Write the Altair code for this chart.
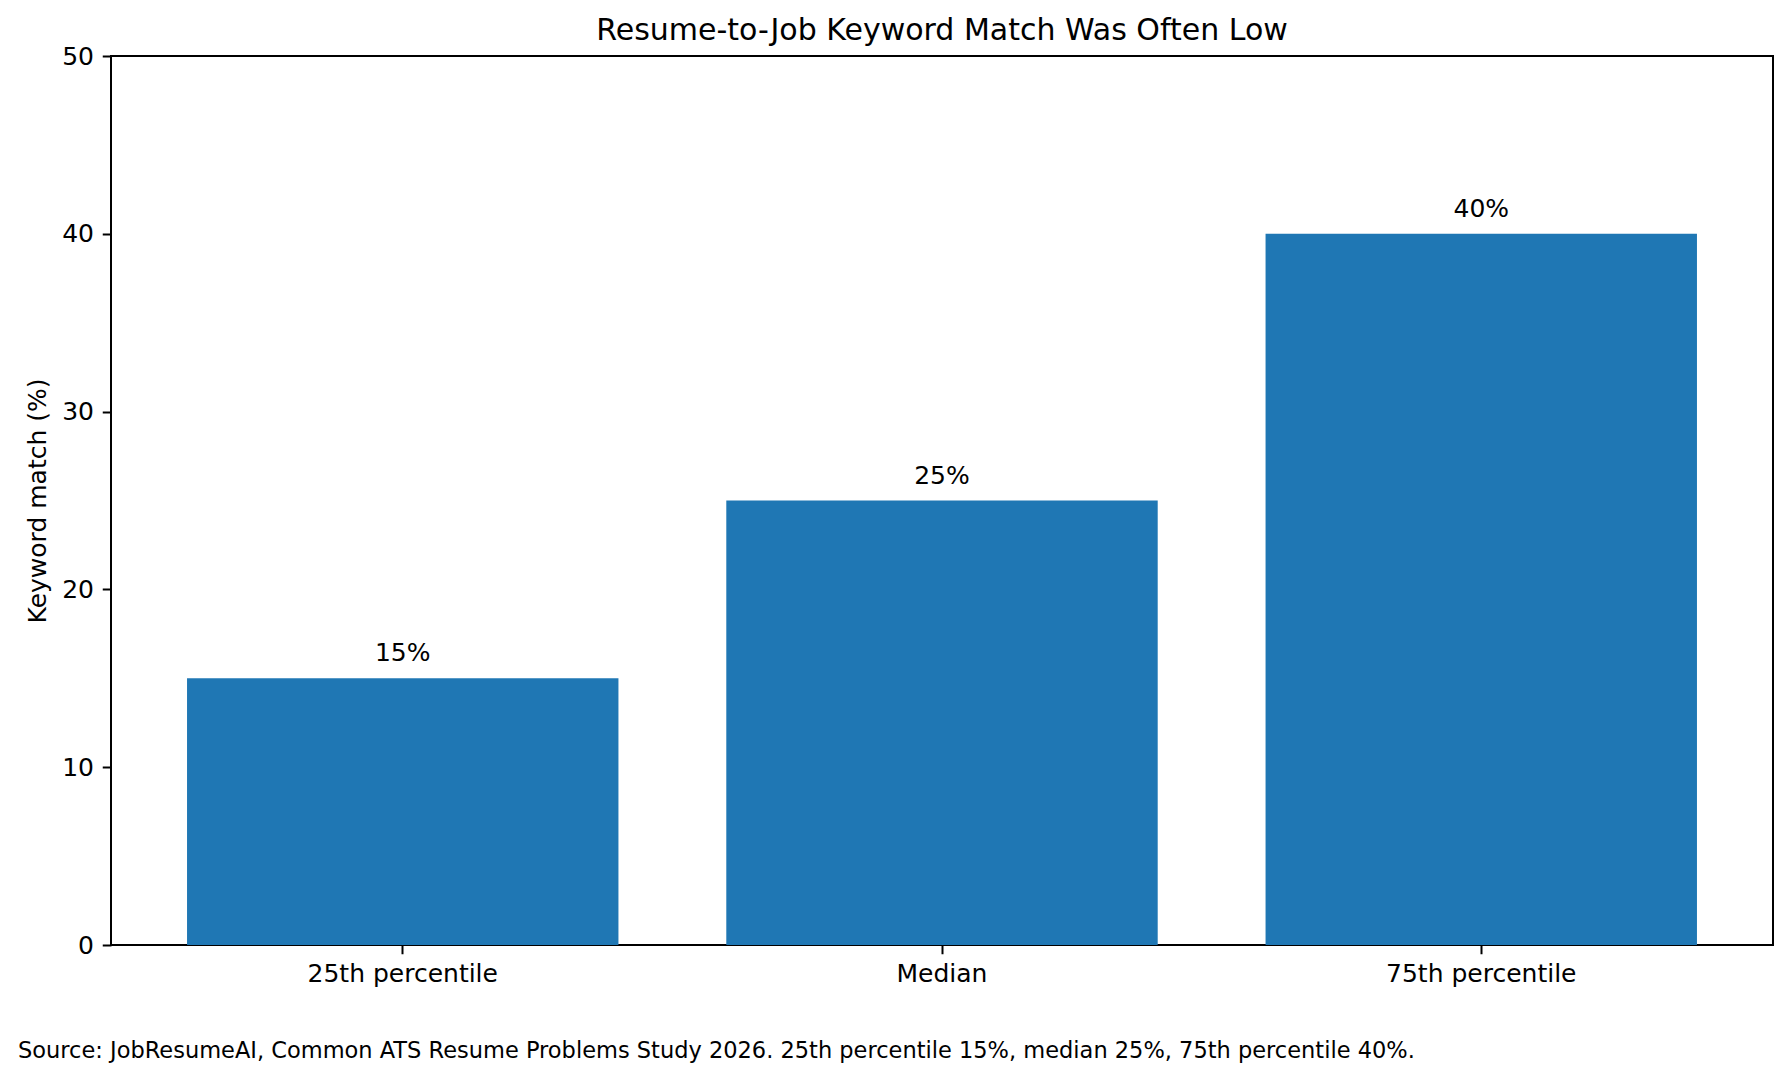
import pandas as pd
import altair as alt

# values
categories = ["25th percentile", "Median", "75th percentile"]
match_pct = [15, 25, 40]
bar_labels = ["15%", "25%", "40%"]
y_ticks = [0, 10, 20, 30, 40, 50]

source_note = (
    "Source: JobResumeAI, Common ATS Resume Problems Study 2026. "
    "25th percentile 15%, median 25%, 75th percentile 40%."
)

FONT = "DejaVu Sans"
BLUE = "#1f77b4"

df = pd.DataFrame({"category": categories, "value": match_pct, "label": bar_labels})

base = alt.Chart(df).encode(
    x=alt.X(
        "category:N",
        sort=categories,
        title=None,
        scale=alt.Scale(paddingInner=0.2, paddingOuter=0.141),
        axis=alt.Axis(
            labelAngle=0,
            labelFont=FONT,
            labelFontSize=25,
            labelColor="black",
            labelPadding=8,
            labelLimit=0,
            tickColor="black",
            tickSize=8.75,
            tickWidth=2,
            domain=False,
        ),
    ),
    y=alt.Y(
        "value:Q",
        title="Keyword match (%)",
        scale=alt.Scale(domain=[0, 50], nice=False),
        axis=alt.Axis(
            values=y_ticks,
            grid=False,
            labelFont=FONT,
            labelFontSize=25,
            labelColor="black",
            labelPadding=8.75,
            tickColor="black",
            tickSize=8.75,
            tickWidth=2,
            domain=False,
            titleFont=FONT,
            titleFontSize=25,
            titleFontWeight="normal",
            titleColor="black",
            titlePadding=11,
        ),
    ),
)

bars = base.mark_bar(color=BLUE)

# value labels above each bar
value_text = base.mark_text(
    dy=-17,
    baseline="alphabetic",
    font=FONT,
    fontSize=25,
    color="black",
).encode(text="label:N")

# source line at the bottom left of the figure
note = alt.Chart(pd.DataFrame({"note": [source_note]})).mark_text(
    align="left",
    baseline="alphabetic",
    font=FONT,
    fontSize=22.5,
    color="black",
).encode(
    x=alt.value(-93),
    y=alt.value(1002),
    text="note:N",
)

chart = (bars + value_text + note).properties(
    width=1662,
    height=889,
    title=alt.TitleParams(
        "Resume-to-Job Keyword Match Was Often Low",
        font=FONT,
        fontSize=30,
        fontWeight="normal",
        color="black",
        anchor="middle",
        offset=8,
        dy=10,
    ),
    autosize=alt.AutoSizeParams(type="none"),
    padding={"left": 103, "top": 48, "right": 5, "bottom": 120},
).configure_view(
    stroke="black",
    strokeWidth=2,
)

chart.save("out.html", embed_options={"renderer": "svg", "actions": False})
